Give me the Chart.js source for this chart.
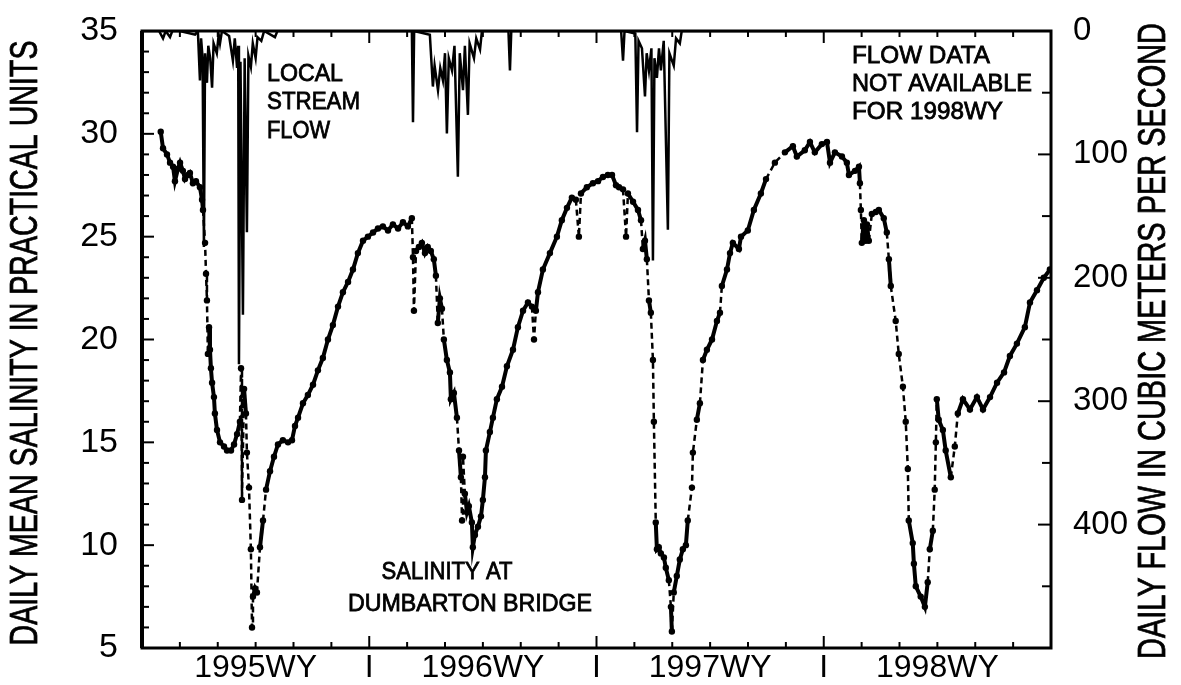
<!DOCTYPE html>
<html><head><meta charset="utf-8">
<script src="https://cdn.jsdelivr.net/npm/chart.js@4.4.1/dist/chart.umd.min.js"></script>
<style>html,body{margin:0;padding:0;background:#fff;}canvas{display:block;}</style>
</head><body>
<canvas id="c" width="1181" height="685"></canvas>
<script>
// x values are months since 1 Oct 1994 (start of 1995 water year)
const salMonths = [0.99,1.11,1.32,1.48,1.64,1.74,1.90,2.01,2.16,2.27,2.43,2.53,2.69,2.85,3.06,3.17,3.22,3.33,3.38,3.43,3.48,3.54,3.59,3.64,3.70,3.80,3.85,3.96,4.12,4.33,4.49,4.70,4.86,5.02,5.17,5.23,5.28,5.39,5.49,5.54,5.65,5.75,5.81,5.86,5.97,6.07,6.23,6.39,6.55,6.76,6.97,7.18,7.44,7.71,7.92,8.08,8.24,8.50,8.76,9.03,9.29,9.55,9.82,10.08,10.35,10.61,10.88,11.14,11.40,11.67,11.93,12.20,12.46,12.72,12.99,13.25,13.52,13.78,14.04,14.25,14.31,14.36,14.47,14.62,14.78,14.94,15.09,15.25,15.41,15.52,15.62,15.73,15.84,15.94,16.10,16.26,16.31,16.47,16.63,16.74,16.84,16.90,16.95,17.05,17.16,17.26,17.42,17.47,17.58,17.74,17.90,18.00,18.11,18.16,18.37,18.53,18.74,19.01,19.27,19.59,19.85,20.12,20.38,20.59,20.70,20.80,20.91,21.17,21.54,21.91,22.17,22.44,22.70,22.91,23.07,23.18,23.49,23.81,24.08,24.34,24.60,24.82,25.03,25.19,25.40,25.56,25.66,25.93,26.19,26.35,26.45,26.56,26.66,26.77,26.87,26.98,27.03,27.13,27.19,27.29,27.40,27.56,27.66,27.82,27.93,27.98,28.08,28.24,28.40,28.56,28.72,28.82,29.04,29.09,29.30,29.46,29.62,29.83,30.10,30.36,30.52,30.62,30.89,31.05,31.20,31.52,31.63,31.99,32.31,32.68,32.95,33.42,33.95,34.37,34.58,35.00,35.27,35.53,35.90,36.17,36.33,36.59,36.96,37.22,37.33,37.65,37.86,37.91,37.96,38.01,38.12,38.22,38.28,38.38,38.54,38.75,38.91,39.17,39.33,39.44,39.54,39.80,39.96,40.18,40.33,40.44,40.49,40.70,40.76,40.86,41.12,41.34,41.49,41.60,41.76,41.86,41.92,41.97,42.07,42.29,42.44,42.71,42.92,43.08,43.35,43.72,44.09,44.41,44.78,45.15,45.52,45.83,46.20,46.62,46.89,47.26,47.62,47.94];
const salValues = [30.1,29.3,29.0,28.6,28.4,27.7,28.3,28.6,28.2,27.8,28.0,28.1,27.6,27.7,27.4,26.8,26.3,24.7,23.2,21.9,19.3,20.6,19.5,18.6,17.9,17.2,16.4,15.6,15.0,14.8,14.6,14.6,14.9,15.4,16.0,18.6,12.2,17.6,16.4,14.5,12.8,9.8,6.0,7.5,7.9,7.7,9.9,11.2,12.7,13.6,14.3,14.9,15.1,15.0,15.1,15.8,16.2,16.9,17.3,17.8,18.5,19.1,20.0,20.7,21.6,22.3,22.8,23.4,24.2,24.8,25.0,25.2,25.4,25.5,25.3,25.6,25.4,25.7,25.5,25.9,24.0,21.4,24.3,24.5,24.7,24.2,24.5,24.3,23.9,23.1,20.8,22.0,21.5,20.0,19.0,18.4,17.1,17.4,16.2,14.6,13.3,11.2,14.3,12.5,11.6,11.9,11.1,9.9,10.5,10.9,11.4,12.2,13.3,14.6,15.5,16.2,17.1,17.7,18.7,19.5,20.6,21.4,21.8,21.6,20.0,21.4,22.3,23.4,24.2,25.0,25.8,26.4,26.9,26.8,25.0,27.1,27.4,27.6,27.7,27.9,28.0,28.0,27.5,27.4,27.3,25.0,27.1,26.7,26.3,25.8,24.4,24.8,23.9,21.9,21.3,19.0,16.0,11.1,9.8,9.9,9.6,9.4,8.9,8.3,7.0,5.8,7.7,8.5,9.3,9.8,10.0,11.2,12.8,14.5,16.1,16.9,19.0,19.5,20.0,20.9,21.3,22.6,23.4,24.2,24.7,24.4,25.0,25.3,26.3,27.1,27.8,28.6,29.1,29.4,28.9,29.2,29.6,29.1,29.5,29.6,28.6,29.1,28.9,28.6,28.0,28.2,28.4,27.6,26.3,24.7,25.8,24.8,25.6,24.8,26.1,26.2,26.3,25.9,25.2,23.9,22.6,20.9,19.3,17.7,16.0,13.7,11.2,10.1,9.1,8.0,7.5,7.0,8.2,9.8,10.7,12.7,15.0,17.1,16.1,15.6,14.6,13.3,14.8,16.4,17.1,16.6,17.2,16.6,17.2,17.9,18.4,19.2,19.8,20.6,21.8,22.4,23.0,23.4];
const flowMonths = [0.00,0.90,1.11,1.25,1.48,1.60,2.00,2.80,2.95,3.06,3.12,3.20,3.27,3.33,3.43,3.50,3.60,3.70,3.78,3.95,4.05,4.12,4.22,4.60,4.80,4.90,5.02,5.08,5.12,5.20,5.33,5.42,5.54,5.62,5.75,5.85,6.00,6.10,6.30,6.45,7.02,7.15,14.25,14.31,14.37,15.20,15.36,15.45,15.63,15.75,15.89,16.00,16.10,16.20,16.37,16.50,16.68,16.78,16.95,17.05,17.21,17.30,17.53,17.65,17.85,17.95,19.35,19.43,19.50,25.30,25.40,25.48,26.05,26.14,26.22,26.40,26.56,26.65,26.77,26.90,26.98,27.06,27.19,27.30,27.40,27.55,27.77,27.85,28.08,28.20,28.40,28.50,36.00];
const flowValues = [0,0,6,0,5,0,0,3,0,40,6,22,175,18,42,12,22,46,10,18,3,10,0,4,24,6,30,12,270,25,230,22,163,20,29,10,22,5,8,0,5,0,0,74,0,3,45,28,48,30,40,18,83,22,32,12,118,18,48,12,68,10,22,6,15,0,0,32,0,0,24,0,2,82,8,14,53,18,32,14,186,22,38,14,32,8,161,18,28,6,10,0,0];
const xLabelAt = [6,12,18,24,30,36,42];
const xLabelText = ['1995WY','I','1996WY','I','1997WY','I','1998WY'];
const salTickLabels = [5,10,15,20,25,30,35];
const flowTickLabels = [0,100,200,300,400];

const FONT = '"Liberation Sans", Arial, sans-serif';

function fitText(ctx, text, cx, cy, w, size, rot, align) {
  ctx.save();
  ctx.translate(cx, cy);
  ctx.rotate(rot || 0);
  ctx.font = size + 'px ' + FONT;
  const m = ctx.measureText(text).width;
  ctx.scale(w / m, 1);
  ctx.textAlign = align || 'center';
  ctx.textBaseline = 'middle';
  ctx.fillStyle = '#000';
  ctx.strokeStyle = '#000';
  ctx.lineWidth = 0.8;
  ctx.fillText(text, 0, 0);
  ctx.strokeText(text, 0, 0);
  ctx.restore();
}

const framePlugin = {
  id: 'frame',
  afterDraw(chart) {
    const {ctx, chartArea: a, scales} = chart;
    ctx.save();
    ctx.strokeStyle = '#000';
    ctx.lineWidth = 2;
    const line = (x1, y1, x2, y2) => { ctx.beginPath(); ctx.moveTo(x1, y1); ctx.lineTo(x2, y2); ctx.stroke(); };
    scales.x.ticks.forEach(t => {
      const px = scales.x.getPixelForValue(t.value);
      const L = (t.value % 12 === 0) ? 12 : 6;
      line(px, a.bottom, px, a.bottom - L);
      line(px, a.top, px, a.top + L);
    });
    scales.y.ticks.forEach(t => {
      const py = scales.y.getPixelForValue(t.value);
      line(a.left, py, a.left + ((t.value % 5 === 0) ? 12 : 7), py);
    });
    scales.yF.ticks.forEach(t => {
      const py = scales.yF.getPixelForValue(t.value);
      line(a.right, py, a.right - ((t.value % 100 === 0) ? 13 : 9), py);
    });
    ctx.lineWidth = 3;
    ctx.strokeRect(a.left, a.top, a.right - a.left, a.bottom - a.top);
    ctx.lineWidth = 4;
    line(a.left, a.top, a.left, a.bottom);
    ctx.restore();
    // axis titles
    fitText(ctx, 'DAILY MEAN SALINITY IN PRACTICAL UNITS', 27, 343, 605, 38, -Math.PI / 2);
    fitText(ctx, 'DAILY FLOW IN CUBIC METERS PER SECOND', 1155, 341, 636, 38, -Math.PI / 2);
    // annotations
    fitText(ctx, 'LOCAL', 267, 74, 76, 24, 0, 'left');
    fitText(ctx, 'STREAM', 267, 102, 93, 24, 0, 'left');
    fitText(ctx, 'FLOW', 267, 131, 63, 24, 0, 'left');
    fitText(ctx, 'FLOW DATA', 852, 56, 138, 24, 0, 'left');
    fitText(ctx, 'NOT AVAILABLE', 852, 84, 180, 24, 0, 'left');
    fitText(ctx, 'FOR 1998WY', 852, 112, 151, 24, 0, 'left');
    fitText(ctx, 'SALINITY AT', 447, 572, 131, 24, 0, 'center');
    fitText(ctx, 'DUMBARTON BRIDGE', 470, 604, 244, 24, 0, 'center');
  }
};

const gapSeg = c => Math.abs(c.p1.parsed.y - c.p0.parsed.y) > 1.3 || (c.p1.parsed.x - c.p0.parsed.x) > 0.45;

new Chart(document.getElementById('c'), {
  type: 'line',
  data: {
    datasets: [
      {
        label: 'Salinity at Dumbarton Bridge',
        data: salMonths.map((m, i) => ({x: m, y: salValues[i]})),
        yAxisID: 'y',
        borderColor: '#000',
        borderWidth: 4,
        pointRadius: 3.2,
        pointBackgroundColor: '#000',
        pointBorderWidth: 0,
        tension: 0,
        segment: {
          borderDash: c => gapSeg(c) ? [6, 4] : undefined,
          borderWidth: c => gapSeg(c) ? 2.5 : 4
        }
      },
      {
        label: 'Local stream flow',
        data: flowMonths.map((m, i) => ({x: m, y: flowValues[i]})),
        yAxisID: 'yF',
        borderColor: '#000',
        borderWidth: 2.5,
        pointRadius: 0,
        tension: 0
      }
    ]
  },
  options: {
    responsive: false,
    animation: false,
    devicePixelRatio: 1,
    layout: {padding: {top: 31, left: 0, right: 0, bottom: 0}},
    plugins: {legend: {display: false}, tooltip: {enabled: false}},
    scales: {
      x: {
        type: 'linear', min: 0, max: 48,
        grid: {display: false, drawTicks: false}, border: {display: false},
        ticks: {
          stepSize: 2, autoSkip: false, maxRotation: 0, color: '#000', padding: 1,
          font: {family: FONT, size: 32},
          callback: v => { const i = xLabelAt.indexOf(v); return i >= 0 ? xLabelText[i] : ''; }
        },
        afterFit: s => { s.height = 37; }
      },
      y: {
        type: 'linear', position: 'left', min: 5, max: 35,
        grid: {display: false, drawTicks: true, tickLength: 22}, border: {display: false},
        ticks: {
          stepSize: 1, autoSkip: false, color: '#000', padding: 2,
          font: {family: FONT, size: 34},
          callback: v => salTickLabels.includes(v) ? String(v) : ''
        },
        afterFit: s => { s.width = 142; }
      },
      yF: {
        type: 'linear', position: 'right', min: 0, max: 500, reverse: true,
        grid: {display: false, drawTicks: true, tickLength: 20}, border: {display: false},
        ticks: {
          stepSize: 50, autoSkip: false, color: '#000', padding: 2,
          font: {family: FONT, size: 33},
          callback: v => flowTickLabels.includes(v) ? String(v) : ''
        },
        afterFit: s => { s.width = 130; }
      }
    }
  },
  plugins: [framePlugin]
});
</script>
</body></html>
